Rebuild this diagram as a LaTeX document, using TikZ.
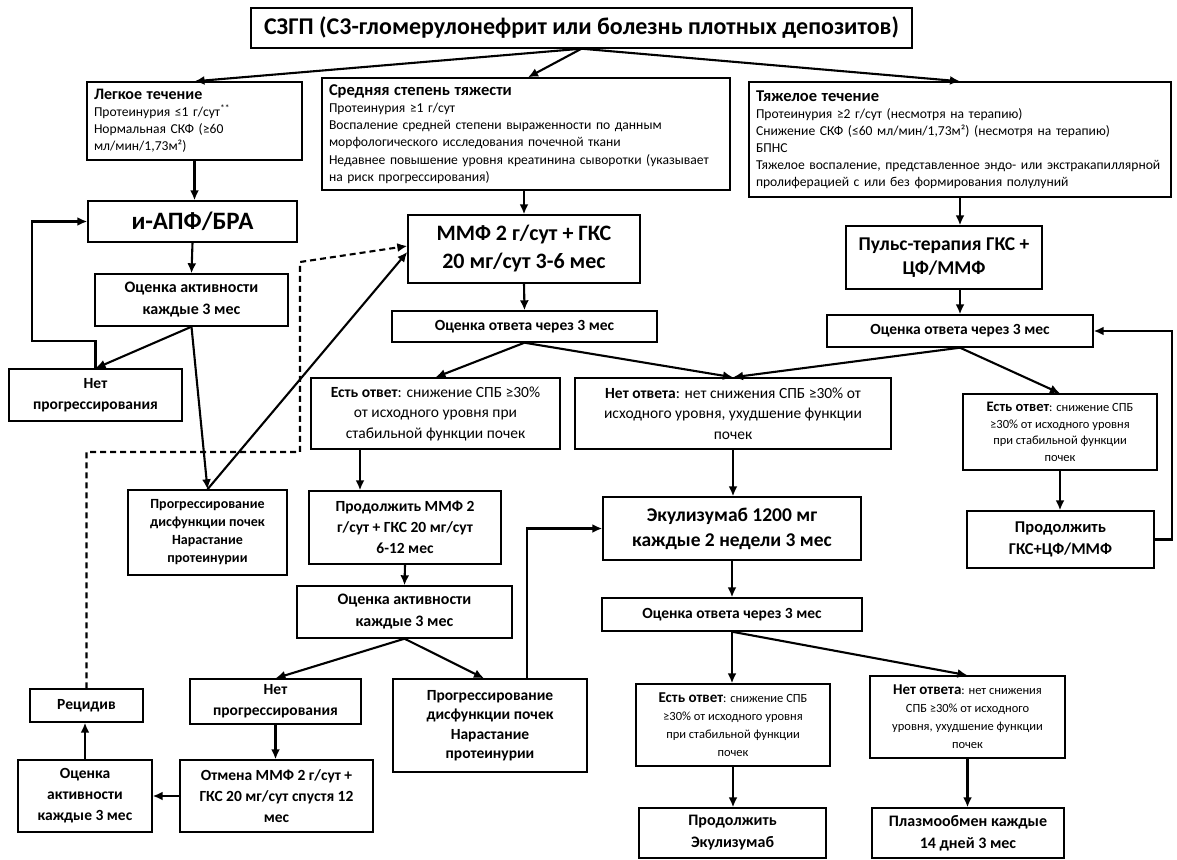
\documentclass[tikz,border=0pt]{standalone}
\usepackage{fontspec}
\setmainfont{Carlito}
\usetikzlibrary{arrows.meta}
\newcommand{\fs}[2]{\fontsize{#1}{#2}\selectfont}
\newcommand{\bx}[7]{%
  \pgfmathsetmacro{\bxcx}{(#2+#3)/2}%
  \pgfmathsetmacro{\bxcy}{(#4+#5)/2}%
  \pgfmathsetmacro{\bxw}{#3-#2}%
  \pgfmathsetmacro{\bxh}{#5-#4}%
  \node[box,#6,minimum width=\bxw pt,minimum height=\bxh pt] (#1) at (\bxcx,\bxcy) {#7};}
\tikzset{
  box/.style={draw=black, line width=1.4pt, fill=white, align=center, inner sep=3pt},
  lbox/.style={box, align=left, inner xsep=7pt},
  arr/.style={line width=2.1pt, -{Latex[length=10pt,width=9pt]}},
  darr/.style={arr, dash pattern=on 6pt off 4pt},
  bigb/.style={font=\fs{22}{28}\bfseries},
  midb/.style={font=\fs{15.5}{21}\bfseries},
  respb/.style={font=\fs{15.5}{18}\bfseries},
}
\begin{document}
\begin{tikzpicture}[x=1pt,y=-1pt]
\fill[white] (0,0) rectangle (1177,859);
\useasboundingbox (0,0) rectangle (1177,859);

% top row
\bx{title}{251}{912}{8}{48}{font=\fs{24}{26}\bfseries}{СЗГП (С3-гломерулонефрит или болезнь плотных депозитов)}
\bx{mild}{87}{302}{82}{160}{lbox,text width=201pt,font=\fs{13.6}{17}}{{\fs{16}{17}\bfseries Легкое течение}\\ Протеинурия ≤1 г/сут\textsuperscript{**}\\ Нормальная СКФ (≥60\\ мл/мин/1,73м²)}
\bx{mod}{322}{730}{78}{190}{lbox,text width=394pt,font=\fs{13.6}{17.3}}{{\fs{16.5}{17.3}\bfseries Средняя степень тяжести}\\ Протеинурия ≥1 г/сут\\ Воспаление средней степени выраженности по данным\\ морфологического исследования почечной ткани\\ Недавнее повышение уровня креатинина сыворотки (указывает\\ на риск прогрессирования)}
\bx{sev}{749}{1171}{82}{197}{lbox,text width=408pt,font=\fs{13.6}{17}}{{\fs{16.5}{17}\bfseries Тяжелое течение}\\ Протеинурия ≥2 г/сут (несмотря на терапию)\\ Снижение СКФ (≤60 мл/мин/1,73м²) (несмотря на терапию)\\ БПНС\\ Тяжелое воспаление, представленное эндо- или экстракапиллярной\\ пролиферацией с или без формирования полулуний}

% left column
\bx{ace}{88}{297}{201}{242}{font=\fs{25}{28}\bfseries}{и-АПФ/БРА}
\bx{evalA}{95}{288}{274}{326}{font=\fs{16}{22}\bfseries}{Оценка активности\\каждые 3 мес}
\bx{noprogA}{9}{182}{369}{421}{midb}{Нет\\прогрессирования}
\bx{progA}{128}{287}{490}{575}{font=\fs{14}{18}\bfseries}{Прогрессирование\\дисфункции почек\\Нарастание\\протеинурии}

% middle column
\bx{mmf}{408}{640}{215}{283}{bigb}{ММФ 2 г/сут + ГКС\\20 мг/сут 3-6 мес}
\bx{respM}{392}{657}{311}{342}{respb}{Оценка ответа через 3 мес}
\bx{yesM}{311}{560}{378}{449}{font=\fs{15.5}{20.5}}{\textbf{Есть ответ}: снижение СПБ ≥30\%\\от исходного уровня при\\стабильной функции почек}
\bx{noM}{575}{891}{378}{449}{font=\fs{15.5}{20.5}}{\textbf{Нет ответа}: нет снижения СПБ ≥30\% от\\исходного уровня, ухудшение функции\\почек}
\bx{contM}{309}{501}{491}{564}{midb}{Продолжить ММФ 2\\г/сут + ГКС 20 мг/сут\\6-12 мес}
\bx{evalM}{297}{512}{586}{638}{font=\fs{16}{22}\bfseries}{Оценка активности\\каждые 3 мес}
\bx{noprogM}{190}{361}{679}{724}{midb}{Нет\\прогрессирования}
\bx{cancel}{180}{373}{760}{832}{midb}{Отмена ММФ 2 г/сут +\\ГКС 20 мг/сут спустя 12\\мес}
\bx{evalL}{18}{152}{760}{832}{midb}{Оценка\\активности\\каждые 3 мес}
\bx{relapse}{30}{143}{689}{722}{midb}{Рецидив}
\bx{progM}{393}{587}{679}{772}{font=\fs{15.5}{19.5}\bfseries}{Прогрессирование\\дисфункции почек\\Нарастание\\протеинурии}

% right column
\bx{pulse}{846}{1042}{226}{289}{font=\fs{19.5}{24}\bfseries}{Пульс-терапия ГКС +\\ЦФ/ММФ}
\bx{respR}{827}{1093}{315}{347}{respb}{Оценка ответа через 3 мес}
\bx{yesR}{963}{1157}{394}{470}{font=\fs{12.5}{16.5}}{{\fs{14.5}{16.5}\bfseries Есть ответ}: снижение СПБ\\≥30\% от исходного уровня\\при стабильной функции\\почек}
\bx{contR}{967}{1154}{511}{568}{font=\fs{16.5}{22}\bfseries}{Продолжить\\ГКС+ЦФ/ММФ}

% lower middle-right
\bx{ecu}{603}{861}{497}{560}{font=\fs{19.5}{25}\bfseries}{Экулизумаб 1200 мг\\каждые 2 недели 3 мес}
\bx{respL}{602}{862}{598}{631}{respb}{Оценка ответа через 3 мес}
\bx{yesL}{636}{830}{684}{766}{font=\fs{12.5}{18}}{{\fs{15}{18}\bfseries Есть ответ}: снижение СПБ\\≥30\% от исходного уровня\\при стабильной функции\\почек}
\bx{noL}{870}{1065}{676}{758}{font=\fs{12.5}{18}}{{\fs{15}{18}\bfseries Нет ответа}: нет снижения\\СПБ ≥30\% от исходного\\уровня, ухудшение функции\\почек}
\bx{contE}{639}{826}{808}{858}{font=\fs{16}{22}\bfseries}{Продолжить\\Экулизумаб}
\bx{plasma}{872}{1064}{808}{858}{font=\fs{16}{22}\bfseries}{Плазмообмен каждые\\14 дней 3 мес}

% connectors
\draw[arr] (title.south) -- (mild.north);
\draw[arr] (title.south) -- ([xshift=2pt]mod.north);
\draw[arr] (title.south) -- (sev.north);
\draw[arr] (mild.south) -- (mild.south |- ace.north);
\draw[arr] (ace.south) -- (evalA.north);
\draw[arr] (evalA.south) -- (noprogA.north);
\draw[arr] (evalA.south) -- (progA.north);
\draw[arr] (noprogA.north) -- ++(0,-27) -| ([xshift=-55pt]ace.west) -- (ace.west);
\draw[arr] (progA.north) -- ([yshift=-3pt]mmf.west);
\coordinate (dA) at (300,452);
\coordinate (dB) at (300,262);
\draw[darr] (relapse.north) |- (dA) -- (dB) -- ([yshift=3pt]mmf.west);
\draw[arr] (mmf.north |- mod.south) -- (mmf.north);
\draw[arr] (mmf.south) -- (respM.north);
\draw[arr] (respM.south) -- (yesM.north);
\draw[arr] (respM.south) -- (noM.north);
\draw[arr] (sev.south) -- (sev.south |- pulse.north);
\draw[arr] (sev.south |- pulse.south) -- (respR.north);
\draw[arr] (respR.south) -- (noM.north);
\draw[arr] (respR.south) -- (yesR.north);
\draw[arr] (yesR.south) -- (yesR.south |- contR.north);
\draw[arr] (contR.east) -- ++(17,0) |- (respR.east);
\coordinate (cM) at (360,0);
\draw[arr] (yesM.south -| cM) -- (contM.north -| cM);
\draw[arr] (contM.south) -- (evalM.north);
\draw[arr] (evalM.south) -- (noprogM.north);
\draw[arr] (evalM.south) -- ([xshift=-6pt]progM.north);
\draw[arr] (noprogM.south) -- (noprogM.south |- cancel.north);
\draw[arr] (cancel.west) -- (evalL.east);
\draw[arr] (evalL.north) -- (evalL.north |- relapse.south);
\coordinate (cP) at (527,0);
\draw[arr] (progM.north -| cP) |- (ecu.west);
\draw[arr] (noM.south) -- (noM.south |- ecu.north);
\draw[arr] (ecu.south) -- (ecu.south |- respL.north);
\draw[arr] (respL.south) -- (respL.south |- yesL.north);
\draw[arr] (respL.south) -- (noL.north);
\draw[arr] (yesL.south) -- (yesL.south |- contE.north);
\draw[arr] (noL.south) -- (noL.south |- plasma.north);
\end{tikzpicture}
\end{document}
